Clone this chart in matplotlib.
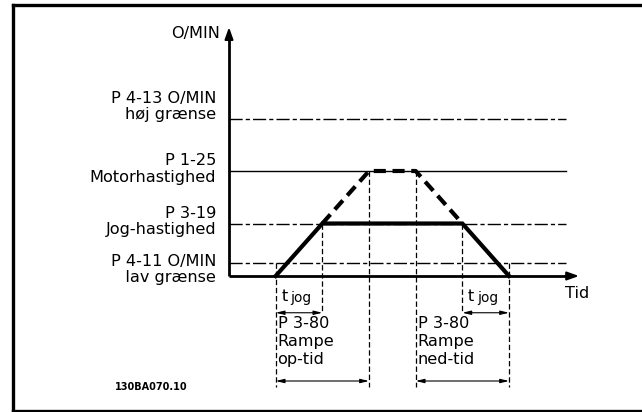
import matplotlib
matplotlib.use("Agg")
import matplotlib.pyplot as plt
from matplotlib.lines import Line2D

# speed levels (arbitrary units, 0 = time axis)
level_names = ["low", "jog", "motor", "high"]
level_values = [1.25, 5.0, 10.0, 15.0]
level_styles = ["dashdot", "dashdot", "solid", "dashdot"]
level_labels = ["P 4-11 O/MIN\n   lav grænse", "P 3-19\nJog-hastighed",
                "P 1-25\nMotorhastighed", "P 4-13 O/MIN\nhøj grænse"]
label_offsets = [-7, 2, 2, 12]   # px shift of the text block from its level

# jog profile (time units)
jog_t = [1, 2, 5, 6]
jog_v = [0, 5, 5, 0]
# ramp continuation to motor speed (dashed)
ramp_t = [2, 3, 4, 5]
ramp_v = [5, 10, 10, 5]

# marker lines: time, top level, bottom extent
mark_t = [1, 2, 3, 4, 5, 6]
mark_top = [1.25, 5, 10, 10, 5, 1.25]
mark_bottom = [-10.6, -3.5, -10.6, -10.6, -3.5, -10.6]

# dimension arrows: (t start, t end, y, label, label t)
dims = [(1, 2, -3.5, "t", 1.12), (5, 6, -3.5, "t", 5.12)]
ramp_dims = [(1, 3, -10.0, "P 3-80\nRampe\nop-tid", 1.04),
             (4, 6, -10.0, "P 3-80\nRampe\nned-tid", 4.04)]

t_max_axis = 7.5
t_max_level = 7.22
v_max_axis = 23.7

W, H = 642, 412
fig = plt.figure(figsize=(W / 100, H / 100), dpi=100)
ax = fig.add_axes([0, 0, 1, 1])
px_t, px_v = 46.67, 10.5          # pixels per unit
x0, y0 = 229, 276                 # origin in pixels (from top-left)
ax.set_xlim(-x0 / px_t, (W - x0) / px_t)
ax.set_ylim(-(H - y0) / px_v, y0 / px_v)
ax.axis("off")

fs = 11.6

# outer frame (top, left, bottom)
for xs, ys in [([13 / W, 1], [1 - 5 / H, 1 - 5 / H]),
               ([13 / W, 13 / W], [1 - 5 / H, 1 - 411 / H]),
               ([13 / W, 1], [1 - 411 / H, 1 - 411 / H])]:
    fig.add_artist(Line2D(xs, ys, color="black", lw=2.4, transform=fig.transFigure))

# level lines
for v, st in zip(level_values, level_styles):
    ln, = ax.plot([0, t_max_level], [v, v], color="black", lw=1.0)
    if st == "dashdot":
        ln.set_dashes([9.5, 2.2, 3.0, 2.2])

# vertical marker lines
for t, top, bot in zip(mark_t, mark_top, mark_bottom):
    ax.plot([t, t], [top, bot], color="black", lw=0.9, dashes=(4.3, 2.2))

# axes with arrows
ax.plot([0, 0], [0, v_max_axis - 0.9], color="black", lw=2.0, solid_capstyle="butt")
ax.plot([0, t_max_axis - 0.2], [0, 0], color="black", lw=2.0, solid_capstyle="butt")
ax.annotate("", xy=(0, v_max_axis), xytext=(0, v_max_axis - 1.2),
            arrowprops=dict(arrowstyle="-|>,head_length=0.7,head_width=0.25",
                            color="black", lw=1.5, shrinkA=0, shrinkB=0))
ax.annotate("", xy=(t_max_axis, 0), xytext=(t_max_axis - 0.3, 0),
            arrowprops=dict(arrowstyle="-|>,head_length=0.7,head_width=0.25",
                            color="black", lw=1.5, shrinkA=0, shrinkB=0))

# speed profile
ax.plot(jog_t, jog_v, color="black", lw=3.0, solid_joinstyle="miter")
ax.plot(ramp_t, ramp_v, color="black", lw=3.0, linestyle=(0, (2.9, 1.6)))

# labels
ax.annotate("O/MIN", xy=(0, v_max_axis), xytext=(-9, -6), textcoords="offset pixels",
            ha="right", va="center", fontsize=fs)
for v, lab, off in zip(level_values, level_labels, label_offsets):
    ax.annotate(lab, xy=(0, v), xytext=(-13, off), textcoords="offset pixels",
                ha="right", va="center", fontsize=fs, linespacing=1.1,
                multialignment="right")
ax.annotate("Tid", xy=(t_max_axis, 0), xytext=(-14, -17), textcoords="offset pixels",
            ha="left", va="center", fontsize=fs)

arrow = dict(arrowstyle="<|-|>,head_length=0.5,head_width=0.12", color="black",
             lw=0.8, shrinkA=0, shrinkB=0)
for t1, t2, y, lab, tl in dims:
    ax.annotate("", xy=(t1, y), xytext=(t2, y), arrowprops=arrow)
    ax.text(tl, y + 1.55, lab, fontsize=fs, ha="left", va="center")
    ax.text(tl + 0.2, y + 1.4, "jog", fontsize=fs * 0.85, ha="left", va="center")
for t1, t2, y, lab, tl in ramp_dims:
    ax.annotate("", xy=(t1, y), xytext=(t2, y), arrowprops=arrow)
    ax.text(tl, -6.2, lab, fontsize=fs, ha="left", va="center", linespacing=1.25)

ax.text(-1.67, -10.6, "130BA070.10", fontsize=7.0, fontweight="bold",
        ha="center", va="center")

fig.savefig("out.png", dpi=100)
